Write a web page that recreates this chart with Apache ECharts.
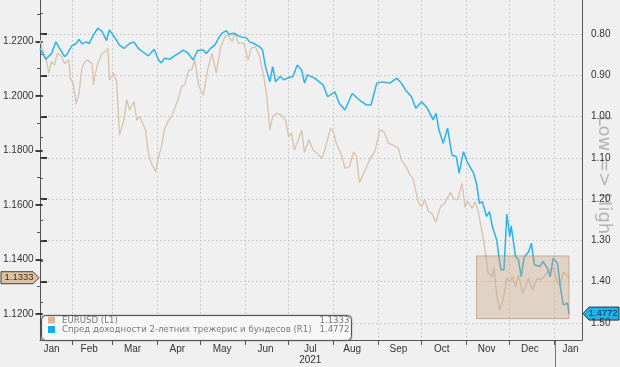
<!DOCTYPE html>
<html><head><meta charset="utf-8">
<script src="https://cdn.jsdelivr.net/npm/echarts@6/dist/echarts.min.js"></script>
<style>html,body{margin:0;padding:0;background:#f0f0f0}#c{width:620px;height:367px}</style>
</head><body><div id="c"></div>
<script>
// ---------- data ----------
const eurDates = ['2021-01-10','2021-01-12','2021-01-15','2021-01-16','2021-01-18','2021-01-20','2021-01-22','2021-01-23','2021-01-25','2021-01-27','2021-01-30','2021-01-31','2021-02-02','2021-02-04','2021-02-06','2021-02-08','2021-02-10','2021-02-12','2021-02-15','2021-02-16','2021-02-17','2021-02-19','2021-02-22','2021-02-24','2021-02-26','2021-02-27','2021-03-02','2021-03-04','2021-03-06','2021-03-09','2021-03-11','2021-03-13','2021-03-16','2021-03-18','2021-03-20','2021-03-24','2021-03-26','2021-03-28','2021-03-31','2021-04-02','2021-04-04','2021-04-06','2021-04-09','2021-04-11','2021-04-15','2021-04-16','2021-04-18','2021-04-20','2021-04-23','2021-04-25','2021-04-27','2021-04-30','2021-05-03','2021-05-06','2021-05-09','2021-05-12','2021-05-15','2021-05-18','2021-05-20','2021-05-23','2021-05-25','2021-05-27','2021-05-31','2021-06-03','2021-06-05','2021-06-08','2021-06-11','2021-06-14','2021-06-16','2021-06-18','2021-06-20','2021-06-23','2021-06-26','2021-06-29','2021-07-01','2021-07-03','2021-07-05','2021-07-08','2021-07-10','2021-07-12','2021-07-15','2021-07-18','2021-07-22','2021-07-24','2021-07-26','2021-07-30','2021-08-01','2021-08-03','2021-08-07','2021-08-09','2021-08-12','2021-08-15','2021-08-17','2021-08-19','2021-08-23','2021-08-26','2021-08-30','2021-09-02','2021-09-05','2021-09-08','2021-09-11','2021-09-15','2021-09-17','2021-09-21','2021-09-23','2021-09-25','2021-09-29','2021-10-01','2021-10-03','2021-10-06','2021-10-08','2021-10-11','2021-10-14','2021-10-17','2021-10-21','2021-10-23','2021-10-26','2021-10-29','2021-10-31','2021-11-02','2021-11-05','2021-11-07','2021-11-09','2021-11-12','2021-11-14','2021-11-16','2021-11-19','2021-11-20','2021-11-22','2021-11-24','2021-11-26','2021-11-29','2021-12-01','2021-12-03','2021-12-05','2021-12-07','2021-12-10','2021-12-14','2021-12-17','2021-12-20','2021-12-22','2021-12-25','2021-12-28','2021-12-31','2022-01-03','2022-01-05','2022-01-07','2022-01-11'];
const eurValues = [1.2205,1.2168,1.2119,1.2083,1.2125,1.2113,1.2156,1.2162,1.2144,1.2119,1.2131,1.2064,1.2046,1.1970,1.2009,1.2102,1.2125,1.2131,1.2119,1.2040,1.2076,1.2119,1.2156,1.2162,1.2174,1.2058,1.2083,1.2052,1.1856,1.1911,1.1985,1.1948,1.1979,1.1911,1.1924,1.1875,1.1789,1.1753,1.1722,1.1777,1.1813,1.1875,1.1911,1.1924,1.1979,1.1985,1.2034,1.2040,1.2095,1.2095,1.2131,1.2034,1.2003,1.2095,1.2156,1.2083,1.2180,1.2217,1.2223,1.2199,1.2235,1.2193,1.2193,1.2131,1.2174,1.2180,1.2144,1.2065,1.1997,1.1875,1.1924,1.1936,1.1930,1.1911,1.1850,1.1863,1.1801,1.1844,1.1875,1.1792,1.1838,1.1801,1.1783,1.1771,1.1801,1.1881,1.1869,1.1826,1.1777,1.1734,1.1740,1.1795,1.1777,1.1682,1.1728,1.1765,1.1801,1.1875,1.1869,1.1826,1.1820,1.1808,1.1765,1.1734,1.1710,1.1698,1.1606,1.1593,1.1618,1.1575,1.1569,1.1537,1.1593,1.1606,1.1646,1.1624,1.1618,1.1679,1.1592,1.1612,1.1588,1.1612,1.1581,1.1497,1.1435,1.1350,1.1337,1.1372,1.1270,1.1215,1.1245,1.1331,1.1318,1.1336,1.1300,1.1343,1.1276,1.1331,1.1288,1.1331,1.1325,1.1337,1.1361,1.1368,1.1318,1.1300,1.1354,1.1333];

const spreadDates = ['2021-01-10','2021-01-14','2021-01-18','2021-01-21','2021-01-23','2021-01-27','2021-01-29','2021-02-01','2021-02-04','2021-02-06','2021-02-08','2021-02-11','2021-02-13','2021-02-16','2021-02-19','2021-02-22','2021-02-25','2021-02-27','2021-03-03','2021-03-06','2021-03-09','2021-03-13','2021-03-16','2021-03-19','2021-03-22','2021-03-26','2021-03-30','2021-04-02','2021-04-04','2021-04-06','2021-04-10','2021-04-13','2021-04-16','2021-04-19','2021-04-22','2021-04-26','2021-04-29','2021-05-03','2021-05-05','2021-05-08','2021-05-11','2021-05-14','2021-05-16','2021-05-19','2021-05-21','2021-05-23','2021-05-26','2021-05-29','2021-06-02','2021-06-04','2021-06-07','2021-06-11','2021-06-13','2021-06-15','2021-06-18','2021-06-20','2021-06-22','2021-06-25','2021-06-28','2021-06-30','2021-07-04','2021-07-07','2021-07-10','2021-07-12','2021-07-14','2021-07-19','2021-07-25','2021-07-28','2021-08-02','2021-08-05','2021-08-09','2021-08-14','2021-08-19','2021-08-24','2021-08-27','2021-08-31','2021-09-04','2021-09-09','2021-09-14','2021-09-17','2021-09-20','2021-09-24','2021-09-27','2021-10-01','2021-10-05','2021-10-09','2021-10-11','2021-10-13','2021-10-16','2021-10-19','2021-10-22','2021-10-25','2021-10-27','2021-10-30','2021-11-02','2021-11-06','2021-11-08','2021-11-10','2021-11-12','2021-11-15','2021-11-17','2021-11-19','2021-11-22','2021-11-24','2021-11-25','2021-11-27','2021-11-29','2021-12-01','2021-12-02','2021-12-05','2021-12-07','2021-12-09','2021-12-11','2021-12-14','2021-12-16','2021-12-18','2021-12-22','2021-12-24','2021-12-27','2021-12-29','2021-12-31','2022-01-03','2022-01-05','2022-01-07','2022-01-10','2022-01-11'];
const spreadValues = [0.835,0.861,0.847,0.819,0.832,0.855,0.847,0.829,0.823,0.813,0.824,0.819,0.823,0.802,0.786,0.794,0.816,0.790,0.810,0.827,0.835,0.823,0.819,0.835,0.843,0.853,0.837,0.863,0.870,0.859,0.861,0.853,0.847,0.839,0.845,0.863,0.840,0.839,0.847,0.835,0.827,0.807,0.798,0.792,0.802,0.798,0.802,0.807,0.810,0.819,0.823,0.831,0.839,0.879,0.916,0.879,0.916,0.903,0.911,0.907,0.903,0.875,0.887,0.919,0.899,0.907,0.924,0.952,0.940,0.968,0.984,0.944,0.960,0.972,0.972,0.919,0.916,0.919,0.907,0.919,0.936,0.952,0.980,0.964,0.980,1.008,0.992,1.032,1.065,1.028,1.093,1.097,1.137,1.085,1.113,1.137,1.162,1.210,1.206,1.242,1.230,1.267,1.299,1.352,1.371,1.371,1.236,1.291,1.265,1.339,1.347,1.388,1.340,1.328,1.307,1.359,1.363,1.351,1.367,1.388,1.343,1.355,1.412,1.456,1.452,1.4772];

const monthLabelDates = ['2021-01-18','2021-02-13','2021-03-15','2021-04-15','2021-05-16','2021-06-15','2021-07-16','2021-08-14','2021-09-15','2021-10-15','2021-11-15','2021-12-15','2022-01-12'];
const monthLabelTexts = ['Jan','Feb','Mar','Apr','May','Jun','Jul\n2021','Aug','Sep','Oct','Nov','Dec','Jan'];

const leftTicks = {min:1.12, max:1.22, step:0.02, minorMax:1.23, minorStep:0.01};
const rightTicks = {min:0.80, max:1.50, step:0.1, minorMin:0.75, minorStep:0.05};

const boxDates = ['2021-11-08','2022-01-11'];
const boxEur = [1.1413, 1.1183];

const eurName = 'EURUSD (L1)';
const spreadName = 'Спред доходности 2-летних трежерис и бундесов (R1)';
const eurLast = '1.1333';
const spreadLast = '1.4772';

// ---------- build ----------
const categories = [];
for (let t = Date.UTC(2021,0,10); t <= Date.UTC(2022,0,20); t += 86400000) categories.push(new Date(t).toISOString().slice(0,10));
const idx = d => categories.indexOf(d);
const eurData = eurDates.map((d,i)=>[idx(d), eurValues[i]]);
const spreadData = spreadDates.map((d,i)=>[idx(d), spreadValues[i]]);
const labelMap = {}; monthLabelDates.forEach((d,i)=>labelMap[d]=monthLabelTexts[i]);

// pixel scale of the frame (plot from y=0 to y=340)
const EUR_MIN = 1.110466, EUR_MAX = 1.235145;
const SPR_MIN = 0.71765, SPR_MAX = 1.54117;
const PLOT_TOP = 0, PLOT_BOTTOM = 340, H = 367;
const eurY = v => PLOT_TOP + (EUR_MAX - v) / (EUR_MAX - EUR_MIN) * (PLOT_BOTTOM - PLOT_TOP);
const sprY = v => PLOT_TOP + (v - SPR_MIN) / (SPR_MAX - SPR_MIN) * (PLOT_BOTTOM - PLOT_TOP);
const gridFor = (yTop, yBot) => ({left:40, right:38, top:yTop, bottom:H - yBot});

const FONT = 'Liberation Sans';
const hiddenX = (g)=>({gridIndex:g, type:'value', show:false, min:0, max:1});
const TICK_COLOR = '#333';

const chart = echarts.init(document.getElementById('c'), null, {renderer:'canvas'});
const option = {
  backgroundColor:'#f0f0f0',
  animation:false,
  grid:[
    gridFor(PLOT_TOP, PLOT_BOTTOM),
    gridFor(eurY(leftTicks.max), eurY(leftTicks.min)),
    gridFor(eurY(leftTicks.minorMax), eurY(leftTicks.min)),
    gridFor(sprY(rightTicks.min), sprY(rightTicks.max)),
    gridFor(sprY(rightTicks.minorMin), sprY(rightTicks.max))
  ],
  xAxis:[
    {gridIndex:0, type:'category', data:categories, boundaryGap:false,
     axisLine:{show:true, lineStyle:{color:'#555', width:1}},
     axisTick:{show:true, length:5, interval:(i,v)=>v.slice(8)==='01', lineStyle:{color:'#555'}},
     axisLabel:{show:true, interval:(i,v)=>v in labelMap, formatter:(v)=>labelMap[v]||'', color:'#333', fontFamily:FONT, fontSize:10, margin:4, lineHeight:11},
     splitLine:{show:true, interval:(i,v)=>v.slice(8)==='01', lineStyle:{color:'#c2c2c2', type:[1.5,2.5], width:1}}
    },
    hiddenX(1), hiddenX(2), hiddenX(3), hiddenX(4)
  ],
  yAxis:[
    {gridIndex:0, type:'value', position:'left', min:EUR_MIN, max:EUR_MAX,
     axisLine:{show:true, lineStyle:{color:'#555'}}, axisTick:{show:false}, axisLabel:{show:false}, splitLine:{show:false}},
    {gridIndex:0, type:'value', position:'right', inverse:true, min:SPR_MIN, max:SPR_MAX,
     axisLine:{show:true, lineStyle:{color:'#555'}}, axisTick:{show:false}, axisLabel:{show:false}, splitLine:{show:false}},
    {gridIndex:1, type:'value', position:'left', min:leftTicks.min, max:leftTicks.max, interval:leftTicks.step,
     axisLine:{show:false}, axisTick:{show:true, length:7, lineStyle:{color:TICK_COLOR, width:2}},
     axisLabel:{formatter:v=>v.toFixed(4), color:'#333', fontFamily:FONT, fontSize:10, margin:9},
     splitLine:{show:false}},
    {gridIndex:2, type:'value', position:'left', min:leftTicks.min, max:leftTicks.minorMax, interval:leftTicks.minorStep,
     axisLine:{show:false}, axisTick:{show:true, length:3, lineStyle:{color:'#555', width:1}},
     axisLabel:{show:false}, splitLine:{show:false}},
    {gridIndex:3, type:'value', position:'right', inverse:true, min:rightTicks.min, max:rightTicks.max, interval:rightTicks.step,
     axisLine:{show:false}, axisTick:{show:true, length:7, lineStyle:{color:TICK_COLOR, width:2}},
     axisLabel:{formatter:v=>v.toFixed(2), color:'#333', fontFamily:FONT, fontSize:10, margin:9},
     splitLine:{show:true, lineStyle:{color:'#c2c2c2', type:[1.5,2.5], width:1}}},
    {gridIndex:4, type:'value', position:'right', inverse:true, min:rightTicks.minorMin, max:rightTicks.max, interval:rightTicks.minorStep,
     axisLine:{show:false}, axisTick:{show:true, length:3, lineStyle:{color:'#555', width:1}},
     axisLabel:{show:false}, splitLine:{show:false}}
  ],
  series:[
    {name:eurName, type:'line', xAxisIndex:0, yAxisIndex:0, data:eurData, showSymbol:false, symbol:'none',
     lineStyle:{color:'#d8c2ad', width:1.3}, z:3},
    {name:spreadName, type:'line', xAxisIndex:0, yAxisIndex:1, data:spreadData, showSymbol:false, symbol:'none',
     lineStyle:{color:'#2ab4e4', width:1.5}, z:4},
    {type:'line', xAxisIndex:0, yAxisIndex:0, data:[], z:6,
     markArea:{silent:true, z:6, itemStyle:{color:'rgba(200,160,128,0.38)', borderColor:'rgba(175,135,105,0.6)', borderWidth:1},
       data:[[{xAxis:idx(boxDates[0]), yAxis:boxEur[0]},{xAxis:idx(boxDates[1]), yAxis:boxEur[1]}]]}}
  ]
};
chart.setOption(option);

const xYear = chart.convertToPixel({xAxisIndex:0}, idx('2022-01-01'));
const yL = chart.convertToPixel({yAxisIndex:0}, parseFloat(eurLast));
const yR = chart.convertToPixel({yAxisIndex:1}, parseFloat(spreadLast));
const LF = '8.6px "DejaVu Sans"';
chart.setOption({graphic:[
  {type:'line', shape:{x1:Math.round(xYear)+0.5, y1:340, x2:Math.round(xYear)+0.5, y2:367}, style:{stroke:'#777', lineWidth:1}},
  {type:'polygon', shape:{points:[[1,yL-6],[33,yL-6],[39,yL],[33,yL+6],[1,yL+6]]}, style:{fill:'#dcc3a6', stroke:'#4a3c2e', lineWidth:1}},
  {type:'text', x:19, y:yL, style:{text:eurLast, fill:'#3c2c1c', font:'9.5px "Liberation Sans"', align:'center', verticalAlign:'middle'}},
  {type:'polygon', shape:{points:[[583,yR],[589,yR-6.5],[619,yR-6.5],[619,yR+6.5],[589,yR+6.5]]}, style:{fill:'#22b3e6', stroke:'#1d3550', lineWidth:1}},
  {type:'text', x:603, y:yR, style:{text:spreadLast, fill:'#0c2c55', font:'9.5px "Liberation Sans"', align:'center', verticalAlign:'middle'}},
  {type:'text', x:604, y:175, rotation:-Math.PI/2, style:{text:'Low => High', fill:'#b4b4b4', font:'18px "DejaVu Sans"', align:'center', verticalAlign:'middle'}},
  {type:'rect', shape:{x:41.5, y:315.5, width:310, height:25, r:4}, style:{fill:'#f7f7f7', stroke:'#555', lineWidth:1, shadowBlur:2, shadowColor:'rgba(0,0,0,0.25)'}, z:50},
  {type:'rect', shape:{x:48, y:316.5, width:7, height:7}, style:{fill:'#d4b9a2'}, z:51},
  {type:'rect', shape:{x:48, y:326, width:7, height:7}, style:{fill:'#12aee8'}, z:51},
  {type:'text', x:62, y:320.5, style:{text:eurName, fill:'#7a7a7a', font:LF, verticalAlign:'middle'}, z:51},
  {type:'text', x:62, y:330, style:{text:spreadName, fill:'#7a7a7a', font:LF, verticalAlign:'middle'}, z:51},
  {type:'text', x:349.5, y:320.5, style:{text:eurLast, fill:'#7a7a7a', font:LF, align:'right', verticalAlign:'middle'}, z:51},
  {type:'text', x:349.5, y:330, style:{text:spreadLast, fill:'#7a7a7a', font:LF, align:'right', verticalAlign:'middle'}, z:51}
]});
</script></body></html>
